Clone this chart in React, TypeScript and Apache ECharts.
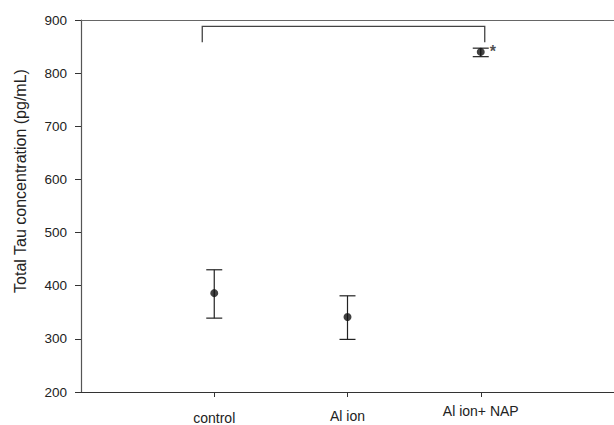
import React, { useEffect, useRef } from "react";
import * as echarts from "echarts";

const categories = ["", "control", "Al ion", "Al ion+ NAP", ""];
const labelPadTop = [0, 7, 5, 0, 0];
const means = [386, 341, 840];
const lows = [339, 299, 831];
const highs = [430, 381, 847];
const pointIdx = [1, 2, 3];
const bracket = [0.91, 3.03, 888, 858];
const yTicks = { min: 200, max: 900, interval: 100 };
const yName = "Total Tau concentration (pg/mL)";

export default function App() {
  const ref = useRef<HTMLDivElement>(null);
  useEffect(() => {
    const chart = echarts.init(ref.current!, null, { renderer: "svg" });
    const font = "'Liberation Sans', Arial, sans-serif";
    const errData = pointIdx.map((x, i) => [x, lows[i], highs[i]]);
    const ptData = pointIdx.map((x, i) =>
      i === 2
        ? {
            value: [x, means[i]],
            label: {
              show: true,
              formatter: "*",
              position: "right",
              distance: 5,
              color: "#222",
              fontSize: 16,
              fontWeight: "bold",
              fontFamily: font,
            },
          }
        : { value: [x, means[i]] }
    );
    chart.setOption({
      animation: false,
      grid: { left: 81, right: 0, top: 20, bottom: 31 },
      xAxis: [
        {
          type: "category",
          data: categories.map((c, i) => ({
            value: c,
            textStyle: { padding: [labelPadTop[i], 0, 0, 0] },
          })),
          boundaryGap: false,
          axisLine: { lineStyle: { color: "#333", width: 1.2 } },
          axisTick: {
            length: 5,
            interval: (i: number) => i >= 1 && i <= 3,
            lineStyle: { color: "#333" },
          },
          axisLabel: {
            interval: (i: number) => i >= 1 && i <= 3,
            margin: 12,
            fontSize: 14,
            color: "#222",
            fontFamily: font,
          },
          splitLine: { show: false },
        },
        {
          type: "category",
          position: "top",
          data: categories,
          boundaryGap: false,
          axisLine: { lineStyle: { color: "#666", width: 1.2 } },
          axisTick: { show: false },
          axisLabel: { show: false },
        },
        {
          type: "value",
          min: 0,
          max: categories.length - 1,
          show: false,
        },
      ],
      yAxis: {
        type: "value",
        min: yTicks.min,
        max: yTicks.max,
        interval: yTicks.interval,
        axisLine: { show: true, lineStyle: { color: "#555", width: 1.2 } },
        axisTick: { show: true, length: 6, lineStyle: { color: "#333" } },
        axisLabel: {
          margin: 14,
          fontSize: 13.5,
          color: "#222",
          fontFamily: font,
        },
        splitLine: { show: false },
      },
      graphic: [
        {
          type: "text",
          x: 20,
          y: 181,
          rotation: Math.PI / 2,
          style: {
            text: yName,
            fontSize: 16,
            fill: "#222",
            fontFamily: font,
            align: "center",
            verticalAlign: "middle",
          },
        },
      ],
      series: [
        {
          type: "custom",
          data: errData,
          z: 2,
          renderItem: (params: any, api: any) => {
            const x = api.value(0);
            const lo = api.coord([x, api.value(1)]);
            const hi = api.coord([x, api.value(2)]);
            const w = 8;
            const st = { stroke: "#222", lineWidth: 1.2 };
            return {
              type: "group",
              children: [
                { type: "line", shape: { x1: lo[0], y1: lo[1], x2: hi[0], y2: hi[1] }, style: st },
                { type: "line", shape: { x1: lo[0] - w, y1: lo[1], x2: lo[0] + w, y2: lo[1] }, style: st },
                { type: "line", shape: { x1: hi[0] - w, y1: hi[1], x2: hi[0] + w, y2: hi[1] }, style: st },
              ],
            };
          },
        },
        {
          type: "custom",
          xAxisIndex: 2,
          data: [bracket],
          z: 2,
          renderItem: (params: any, api: any) => {
            const a = api.coord([api.value(0), api.value(3)]);
            const b = api.coord([api.value(0), api.value(2)]);
            const c = api.coord([api.value(1), api.value(2)]);
            const d = api.coord([api.value(1), api.value(3)]);
            return {
              type: "polyline",
              shape: { points: [a, b, c, d] },
              style: { stroke: "#444", lineWidth: 1.3, fill: "none" },
            };
          },
        },
        {
          type: "scatter",
          data: ptData,
          symbol: "circle",
          symbolSize: 8,
          itemStyle: { color: "#111" },
          z: 3,
        },
      ],
    });
    return () => chart.dispose();
  }, []);
  return (
    <div
      ref={ref}
      style={{ position: "fixed", left: 0, top: 0, width: 614, height: 425, background: "#fff" }}
    />
  );
}
